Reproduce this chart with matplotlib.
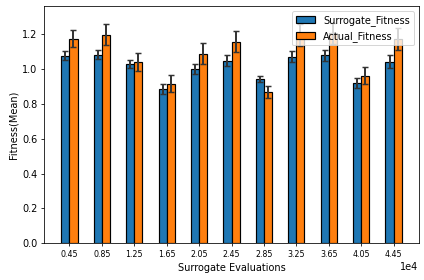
import numpy as np
import matplotlib.pyplot as plt

evaluations = np.array([4500, 8500, 12500, 16500, 20500, 24500, 28500, 32500, 36500, 40500, 44500])
surrogate_mean = [1.076, 1.082, 1.030, 0.886, 1.001, 1.047, 0.943, 1.070, 1.078, 0.920, 1.043]
surrogate_std = [0.025, 0.026, 0.023, 0.028, 0.029, 0.032, 0.018, 0.031, 0.029, 0.030, 0.035]
actual_mean = [1.174, 1.197, 1.041, 0.915, 1.088, 1.157, 0.868, 1.195, 1.205, 0.961, 1.174]
actual_std = [0.049, 0.060, 0.050, 0.049, 0.060, 0.060, 0.036, 0.065, 0.060, 0.049, 0.063]

dpi = 424 / 6
fig, ax = plt.subplots(figsize=(6, 280 / dpi), dpi=dpi)

ancho = 1000
kw = dict(width=ancho, edgecolor='black', linewidth=1.2,
          error_kw=dict(ecolor='#333333', elinewidth=2, capsize=3, capthick=1.5))
ax.bar(evaluations - ancho / 2, surrogate_mean, yerr=surrogate_std, color='#1f77b4',
       label='Surrogate_Fitness', **kw)
ax.bar(evaluations + ancho / 2, actual_mean, yerr=actual_std, color='#ff7f0e',
       label='Actual_Fitness', **kw)

ax.set_xticks(evaluations)
ax.ticklabel_format(axis='x', style='sci', scilimits=(0, 0))
ax.tick_params(axis='x', labelsize=8)
ax.set_ylim(0, 1.362)
ax.set_xlabel('Surrogate Evaluations')
ax.set_ylabel('Fitness(Mean)')
ax.legend(loc='upper right')

fig.subplots_adjust(left=0.1045, right=0.9875, top=0.9786, bottom=0.131)
plt.savefig('out.png', dpi=dpi)
